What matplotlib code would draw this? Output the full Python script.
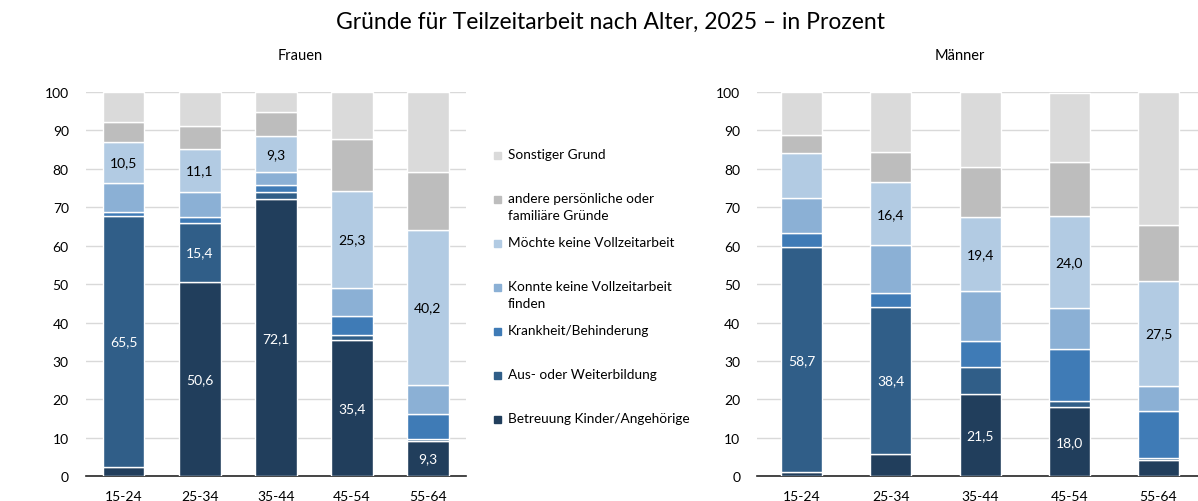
import numpy as np
import matplotlib
matplotlib.use("Agg")
from matplotlib import pyplot as plt
from matplotlib.patches import Rectangle

plt.rcParams['font.family'] = ['Lato', 'DejaVu Sans']

# Altersgruppen
ages = ["15-24", "25-34", "35-44", "45-54", "55-64"]

# Gründe, von unten nach oben gestapelt
reasons = ["Betreuung Kinder/Angehörige", "Aus- oder Weiterbildung", "Krankheit/Behinderung",
           "Konnte keine Vollzeitarbeit\nfinden", "Möchte keine Vollzeitarbeit",
           "andere persönliche oder\nfamiliäre Gründe", "Sonstiger Grund"]
colors = ["#213e5c", "#305e88", "#3f7bb6", "#8bb0d5", "#b2cbe3", "#bdbdbd", "#dadada"]

# Frauen, Werte je Grund (Prozent)
f_betreuung = [2.3, 50.6, 72.1, 35.4, 9.3]
f_ausbildung = [65.5, 15.4, 1.8, 1.3, 0.3]
f_krankheit = [1.0, 1.4, 1.9, 5.1, 6.5]
f_konnte = [7.6, 6.6, 3.5, 7.2, 7.7]
f_moechte = [10.5, 11.1, 9.3, 25.3, 40.2]
f_andere = [5.2, 6.0, 6.1, 13.5, 15.2]
f_sonstig = [7.8, 8.9, 5.3, 12.2, 20.8]

# Männer
m_betreuung = [1.0, 5.7, 21.5, 18.0, 4.2]
m_ausbildung = [58.7, 38.4, 6.9, 1.5, 0.5]
m_krankheit = [3.5, 3.7, 6.7, 13.6, 12.3]
m_konnte = [9.3, 12.3, 13.0, 10.7, 6.4]
m_moechte = [11.7, 16.4, 19.4, 24.0, 27.5]
m_andere = [4.7, 7.8, 12.9, 13.9, 14.6]
m_sonstig = [11.1, 15.7, 19.6, 18.0, 34.5]

# beschriftete Segmente: (Grund-Index, Alters-Index)
f_labels = [(0, 1), (0, 2), (0, 3), (0, 4), (1, 0), (1, 1),
            (4, 0), (4, 1), (4, 2), (4, 3), (4, 4)]
m_labels = [(0, 2), (0, 3), (1, 0), (1, 1), (4, 1), (4, 2), (4, 3), (4, 4)]

frauen = [f_betreuung, f_ausbildung, f_krankheit, f_konnte, f_moechte, f_andere, f_sonstig]
maenner = [m_betreuung, m_ausbildung, m_krankheit, m_konnte, m_moechte, m_andere, m_sonstig]

W, H = 1198, 502
fig = plt.figure(figsize=(W / 100, H / 100), dpi=100)


def draw(ax, data, labels, width):
    x = np.arange(len(ages))
    bottom = np.zeros(len(ages))
    for i, vals in enumerate(data):
        vals = np.array(vals)
        ax.bar(x, vals, width, bottom=bottom, color=colors[i], edgecolor="white", linewidth=1, zorder=3)
        for (si, ci) in labels:
            if si == i:
                tc = "white" if i < 3 else "black"
                ax.text(x[ci], bottom[ci] + vals[ci] / 2, f"{vals[ci]:.1f}".replace(".", ","),
                        ha="center", va="center", color=tc, fontsize=10, zorder=4)
        bottom += vals
    ax.set_ylim(0, 100)
    ax.set_yticks(np.arange(0, 101, 10))
    ax.set_xticks(x)
    ax.set_xticklabels(ages)
    ax.grid(axis="y", color="#d9d9d9", linewidth=1, zorder=0)
    for s in ["left", "right", "top"]:
        ax.spines[s].set_visible(False)
    ax.spines["bottom"].set_color("#262626")
    ax.spines["bottom"].set_linewidth(1.2)
    ax.tick_params(axis="both", length=0, labelsize=10, colors="black")
    ax.tick_params(axis="x", pad=10)
    ax.tick_params(axis="y", pad=12)


y0 = (H - 477.3) / H
y1 = (H - 93) / H
ax1 = fig.add_axes([85.5 / W, y0, (466 - 85.5) / W, y1 - y0])
draw(ax1, frauen, f_labels, 0.55)
ax1.set_xlim(-0.5, 4.5)

ax2 = fig.add_axes([757 / W, y0, (1198 - 757) / W, y1 - y0])
draw(ax2, maenner, m_labels, 0.46)
ax2.set_xlim(-0.5, (1198 - 801.5) / 89.25)

fig.text(610 / W, 1 - 22 / H, "Gründe für Teilzeitarbeit nach Alter, 2025 – in Prozent",
         ha="center", va="center", fontsize=16.5)
fig.text(300 / W, 1 - 56 / H, "Frauen", ha="center", va="center", fontsize=10.5)
fig.text(960 / W, 1 - 56 / H, "Männer", ha="center", va="center", fontsize=10.5)

# Legende, von oben nach unten
for k, i in enumerate(range(len(reasons) - 1, -1, -1)):
    yc = 156 + 44 * k
    fig.patches.append(Rectangle(((494) / W, 1 - (yc + 3.5) / H), 7 / W, 7 / H,
                                 transform=fig.transFigure, color=colors[i], figure=fig))
    fig.text(508 / W, 1 - (yc - 7) / H, reasons[i], ha="left", va="top",
             fontsize=9.8, linespacing=1.5)

fig.savefig("out.png", dpi=100)
